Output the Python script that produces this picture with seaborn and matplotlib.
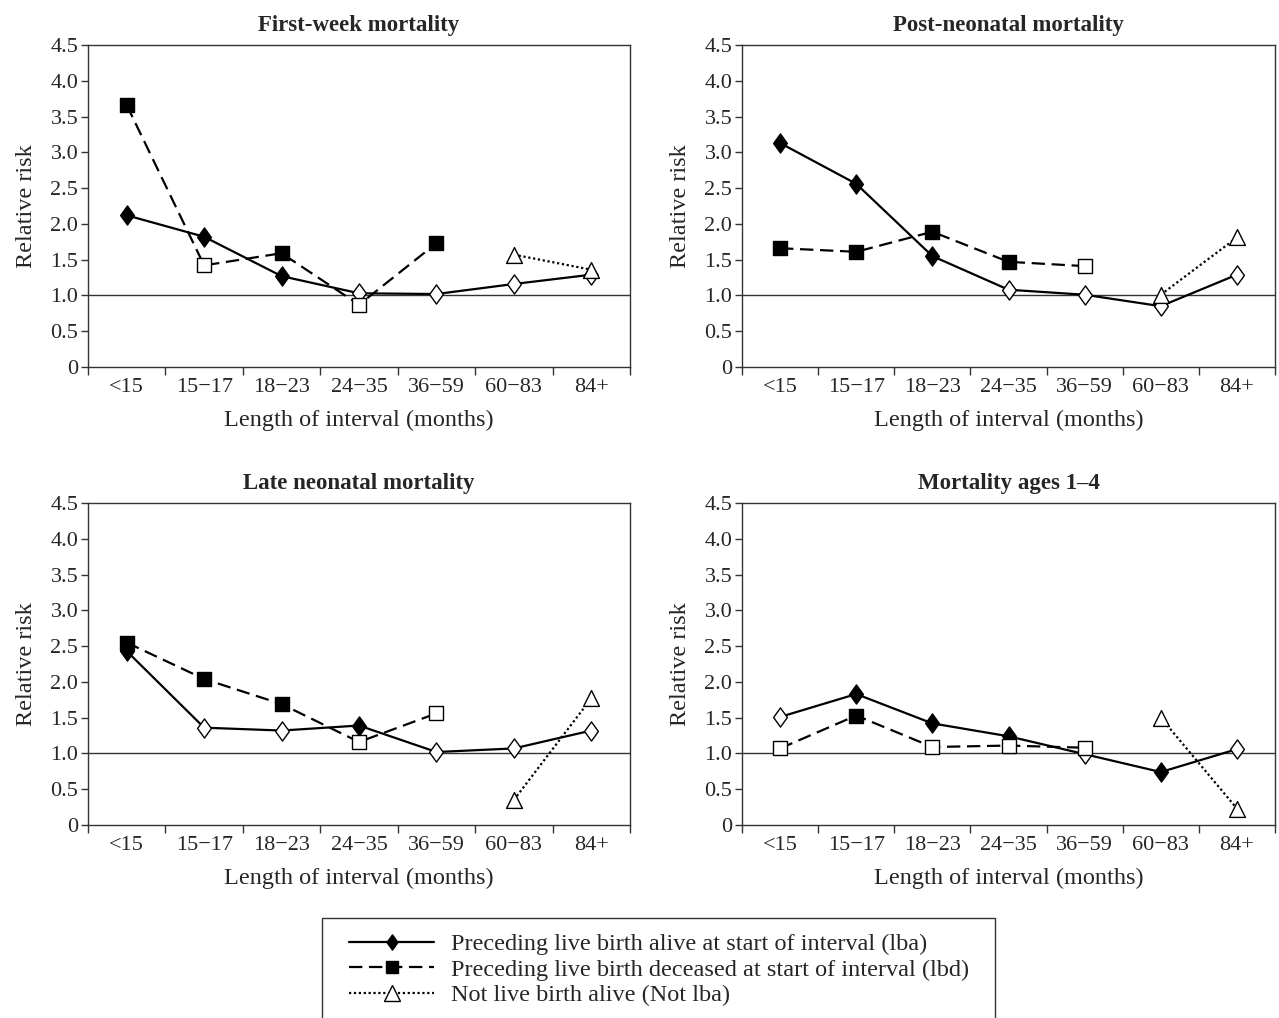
import matplotlib
matplotlib.use("Agg")
import matplotlib.pyplot as plt
import seaborn as sns
import pandas as pd
import numpy as np
from matplotlib.lines import Line2D
from matplotlib.patches import Rectangle
from matplotlib.path import Path

sns.set_theme(style="ticks")
plt.rcParams['font.family'] = ['Liberation Serif', 'DejaVu Serif']

nan = np.nan
categories = ['<15', '15\u221217', '18\u221223', '24\u221235', '36\u221259', '60\u221283', '84+']

# Primera semana
fw_lba = [2.12, 1.82, 1.27, 1.03, 1.02, 1.16, 1.29]
fw_lba_sig = [1, 1, 1, 0, 0, 0, 0]
fw_lbd = [3.66, 1.42, 1.59, 0.87, 1.73, nan, nan]
fw_lbd_sig = [1, 0, 1, 0, 1, 0, 0]
fw_not = [nan, nan, nan, nan, nan, 1.57, 1.36]

# Post-neonatal
pn_lba = [3.13, 2.56, 1.55, 1.08, 1.01, 0.85, 1.29]
pn_lba_sig = [1, 1, 1, 0, 0, 0, 0]
pn_lbd = [1.66, 1.61, 1.89, 1.47, 1.41, nan, nan]
pn_lbd_sig = [1, 1, 1, 1, 0, 0, 0]
pn_not = [nan, nan, nan, nan, nan, 1.01, 1.81]

# Neonatal tardía
ln_lba = [2.43, 1.36, 1.32, 1.39, 1.02, 1.07, 1.32]
ln_lba_sig = [1, 0, 0, 1, 0, 0, 0]
ln_lbd = [2.55, 2.04, 1.69, 1.16, 1.56, nan, nan]
ln_lbd_sig = [1, 1, 1, 0, 0, 0, 0]
ln_not = [nan, nan, nan, nan, nan, 0.35, 1.77]

# Edades 1-4
ch_lba = [1.51, 1.83, 1.42, 1.24, 0.99, 0.74, 1.06]
ch_lba_sig = [0, 1, 1, 1, 0, 1, 0]
ch_lbd = [1.07, 1.53, 1.09, 1.11, 1.08, nan, nan]
ch_lbd_sig = [0, 1, 0, 0, 0, 0, 0]
ch_not = [nan, nan, nan, nan, nan, 1.50, 0.23]

titles = ['First-week mortality', 'Post-neonatal mortality',
          'Late neonatal mortality', 'Mortality ages 1\u20134']
legend_labels = ['Preceding live birth alive at start of interval (lba)',
                 'Preceding live birth deceased at start of interval (lbd)',
                 'Not live birth alive (Not lba)']

panels = [
    (fw_lba, fw_lba_sig, fw_lbd, fw_lbd_sig, fw_not),
    (pn_lba, pn_lba_sig, pn_lbd, pn_lbd_sig, pn_not),
    (ln_lba, ln_lba_sig, ln_lbd, ln_lbd_sig, ln_not),
    (ch_lba, ch_lba_sig, ch_lbd, ch_lbd_sig, ch_not),
]

W, H = 1279, 1018
fig = plt.figure(figsize=(W / 100, H / 100), dpi=100)
# posiciones de los ejes en pixeles (izq, arriba, der, abajo)
boxes = [(88, 45, 630, 367), (742, 45, 1275, 367),
         (88, 503, 630, 825), (742, 503, 1275, 825)]

# rombo un poco mas alto que ancho
diamond = Path([(0, 1), (0.72, 0), (0, -1), (-0.72, 0), (0, 1)],
               [Path.MOVETO, Path.LINETO, Path.LINETO, Path.LINETO, Path.CLOSEPOLY])

dashes = {'lba': '', 'lbd': (6, 3), 'not': (1, 1.2)}
markers = {'lba': diamond, 'lbd': 's', 'not': '^'}
sizes = {'lba': 190, 'lbd': 90, 'not': 130}

for (lba, lba_sig, lbd, lbd_sig, nlba), title, (l, t, r, b) in zip(panels, titles, boxes):
    ax = fig.add_axes([l / W, 1 - b / H, (r - l) / W, (b - t) / H])
    pos = list(range(len(categories)))
    df = pd.concat([
        pd.DataFrame({'pos': pos, 'rr': lba, 'sig': lba_sig, 'series': 'lba'}),
        pd.DataFrame({'pos': pos, 'rr': lbd, 'sig': lbd_sig, 'series': 'lbd'}),
        pd.DataFrame({'pos': pos, 'rr': nlba, 'sig': 0, 'series': 'not'}),
    ]).dropna()

    ax.axhline(1.0, color='#333333', lw=1, zorder=1)
    sns.lineplot(data=df, x='pos', y='rr', style='series', dashes=dashes,
                 color='black', lw=1.6, estimator=None, legend=False, ax=ax, zorder=2)
    for s in ['lba', 'lbd', 'not']:
        sub = df[df['series'] == s]
        filled = sub[sub['sig'] == 1]
        hollow = sub[sub['sig'] == 0]
        sns.scatterplot(data=filled, x='pos', y='rr', marker=markers[s], s=sizes[s],
                        color='black', edgecolor='black', linewidth=1, ax=ax, zorder=3)
        sns.scatterplot(data=hollow, x='pos', y='rr', marker=markers[s], s=sizes[s],
                        color='white', edgecolor='black', linewidth=1, ax=ax, zorder=3)

    ax.set_xlim(-0.5, 6.5)
    ax.set_ylim(0, 4.5)
    ax.set_yticks(np.arange(0, 4.51, 0.5))
    ax.set_yticklabels(['0'] + ['%.1f' % v for v in np.arange(0.5, 4.51, 0.5)])
    ax.set_xticks(pos)
    ax.set_xticklabels(categories)
    ax.set_xticks(np.arange(-0.5, 6.6, 1), minor=True)
    ax.tick_params(axis='x', which='major', length=0, pad=8, labelsize=16)
    ax.tick_params(axis='x', which='minor', length=6, width=1, direction='out', color='#333333')
    ax.tick_params(axis='y', length=5, width=1, direction='out', labelsize=16, pad=2, color='#333333')
    for sp in ax.spines.values():
        sp.set_visible(True)
        sp.set_color('#333333')
        sp.set_linewidth(1)
    ax.set_xlabel('Length of interval (months)', fontsize=17.5, labelpad=9)
    ax.set_ylabel('Relative risk', fontsize=17.5, labelpad=10)
    ax.set_title(title, fontsize=16.5, fontweight='bold', pad=10)

# leyenda
handles = [
    Line2D([], [], color='black', lw=1.6, marker=diamond, markersize=11, markerfacecolor='black'),
    Line2D([], [], color='black', lw=1.6, ls=(0, (6, 3)), marker='s', markersize=9, markerfacecolor='black'),
    Line2D([], [], color='black', lw=1.6, ls=(0, (1, 1.2)), marker='^', markersize=11, markerfacecolor='white'),
]
fig.legend(handles, legend_labels, loc='upper left', bbox_to_anchor=(332 / W, 1 - 916 / H),
           frameon=False, fontsize=17.5, handlelength=3.5, handletextpad=0.7, labelspacing=0.15,
           borderpad=0.2)
fig.patches.append(Rectangle((322 / W, -0.01), (995 - 322) / W, 0.01 + (H - 918) / H,
                             transform=fig.transFigure, fill=False, edgecolor='#333333', lw=1))

fig.savefig('out.png', dpi=100)
